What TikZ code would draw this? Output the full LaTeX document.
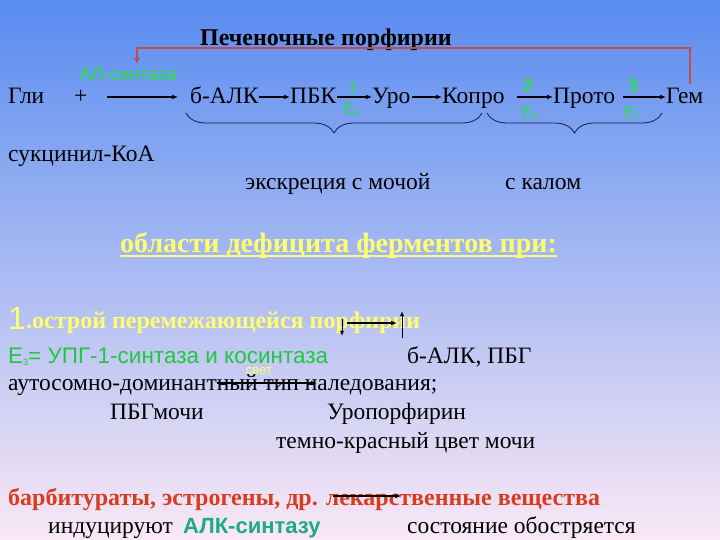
\documentclass[tikz,border=0pt]{standalone}
\usepackage{fontspec}
\setmainfont{Liberation Serif}
\newfontfamily\arialf{Liberation Sans}
\usetikzlibrary{arrows.meta,decorations.pathreplacing}
\definecolor{bgtop}{RGB}{88,140,240}
\definecolor{bgmid}{RGB}{172,192,248}
\definecolor{bgbot}{RGB}{250,232,245}
\definecolor{gtxt}{RGB}{40,225,70}
\definecolor{gtxtb}{RGB}{30,200,60}
\definecolor{ytxt}{RGB}{255,255,110}
\definecolor{rtxt}{RGB}{215,60,30}
\definecolor{alkc}{RGB}{30,170,130}
\definecolor{connc}{RGB}{195,75,75}
\definecolor{navyc}{RGB}{25,25,70}
\tikzset{
  txt/.style={inner sep=0pt,anchor=base west,font=\fontsize{23.5}{23.5}\selectfont,text=black},
  arr/.style={line width=1.5pt,-{Latex[length=6pt,width=5pt]},draw=black},
  glab/.style={inner sep=0pt,text=gtxt,font=\arialf\fontsize{16}{16}\selectfont},
  glabb/.style={inner sep=0pt,text=gtxt,font=\arialf\bfseries\fontsize{18}{18}\selectfont},
  brc/.style={draw=navyc,line width=0.8pt,decorate,decoration={brace,mirror,amplitude=20pt}},
}
\newcommand{\sub}[1]{\raisebox{-2pt}{\fontsize{9}{9}\selectfont #1}}
\begin{document}
\begin{tikzpicture}[x=1pt,y=-1pt]
\shade[top color=bgtop,middle color=bgmid,bottom color=bgbot] (0,0) rectangle (720,540);
\useasboundingbox (0,0) rectangle (720,540);

% title
\node[txt,font=\bfseries\fontsize{24}{24}\selectfont] (title) at (200,46) {Печеночные порфирии};
\node[inner sep=0pt,text=gtxt,font=\arialf\fontsize{18.5}{18.5}\selectfont] (als) at (128,74) {АЛ-синтаза};

% main row
\node[txt] (gli) at (8,104) {Гли};
\node[txt] (plus) at (74,104) {+};
\node[txt] (alk) at (190,104) {б-АЛК};
\node[txt] (pbk) at (290,104) {ПБК};
\node[txt] (uro) at (372,104) {Уро};
\node[txt] (kopro) at (442,104) {Копро};
\node[txt] (proto) at (553,104) {Прото};
\node[txt] (gem) at (666,104) {Гем};
\coordinate (s0) at (107,97);
\draw[arr,shorten >=12pt] (s0) -- ([yshift=7pt]alk.base west);
\draw[arr] ([yshift=7pt]alk.base east) -- ([yshift=7pt]pbk.base west);
\draw[arr] ([yshift=7pt]pbk.base east) -- ([yshift=7pt]uro.base west);
\draw[arr,shorten <=2pt] ([yshift=7pt]uro.base east) -- ([yshift=7pt]kopro.base west);
\draw[arr,shorten <=12pt] ([yshift=7pt]kopro.base east) -- ([yshift=7pt]proto.base west);
\draw[arr,shorten <=8pt] ([yshift=7pt]proto.base east) -- ([yshift=7pt]gem.base west);
\node[glab] (n1) at (353,87) {1};
\node[glab] (e3) at (351,109) {E\sub{3}};
\node[glabb] (n2) at (528,85) {2};
\node[glab] (e6) at (530,113) {E\sub{6}};
\node[glabb] (n3) at (633,85) {3};
\node[glab] (e7) at (632,113) {E\sub{7}};

% red feedback connector
\coordinate (rs) at (690,84);
\coordinate (re) at (137,64);
\draw[draw=connc,line width=2pt,-{Latex[length=6pt,width=6pt]}] (rs) -- (690,48) -| (re);

% braces
\coordinate (b1a) at (186,113);
\coordinate (b1b) at (482,113);
\coordinate (b2a) at (487,113);
\coordinate (b2b) at (662,113);
\draw[brc] (b1a) -- (b1b);
\draw[brc] (b2a) -- (b2b);

\node[txt] (suk) at (8,162) {сукцинил-КоА};
\node[txt] (exc) at (245,190) {экскреция с мочой};
\node[txt] (kal) at (505,190) {с калом};

\node[txt,text=ytxt,font=\bfseries\fontsize{28}{28}\selectfont] (obl) at (120,252) {области дефицита ферментов при:};
\draw[draw=ytxt,line width=1.5pt] ([yshift=-4pt]obl.base west) -- ([yshift=-4pt]obl.base east);

% section 1
\node[txt,text=ytxt,font=\arialf\fontsize{32}{32}\selectfont] (one) at (8,329) {1};
\node[txt,text=ytxt,font=\bfseries\fontsize{24}{24}\selectfont] (ostr) at (26,328) {.острой перемежающейся порфирии};
\node[txt,text=gtxtb,font=\arialf\fontsize{22.5}{22.5}\selectfont] (e3l) at (8,363) {E\sub{3}= УПГ-1-синтаза и косинтаза};
\node[txt] (alkpbg) at (407,363) {б-АЛК, ПБГ};
\node[txt] (auto) at (8,390) {аутосомно-доминантный тип наледования;};
\node[inner sep=0pt,text=ytxt,font=\arialf\fontsize{13}{13}\selectfont] (svet) at (259,371) {свет};
\node[txt] (pbgm) at (110,419) {ПБГмочи};
\node[txt] (uropor) at (327,419) {Уропорфирин};
\node[txt] (temno) at (276,448) {темно-красный цвет мочи};
\node[txt,text=rtxt,font=\bfseries\fontsize{24}{24}\selectfont] (barb) at (8,505) {барбитураты, эстрогены, др. лекарственные вещества};
\node[txt] (ind) at (48,533) {индуцируют};
\node[txt,text=alkc,font=\arialf\bfseries\fontsize{22}{22}\selectfont] (alks) at (183,533) {АЛК-синтазу};
\node[txt] (sost) at (407,533) {состояние обостряется};

% overlay arrows
\coordinate (d1) at (342,319);
\coordinate (d2) at (342,336);
\coordinate (h1) at (347,323);
\coordinate (h2) at (397,323);
\coordinate (u1) at (402,338);
\coordinate (u2) at (402,311);
\coordinate (l1) at (217,383);
\coordinate (l2) at (317,383);
\coordinate (m1) at (333,496);
\coordinate (m2) at (401,496);
\draw[line width=1pt,-{Latex[length=5pt,width=4pt]}] (d1) -- (d2);
\draw[arr] (h1) -- (h2);
\draw[line width=1pt,-{Latex[length=5pt,width=4pt]}] (u1) -- (u2);
\draw[arr] (l1) -- (l2);
\draw[arr] (m1) -- (m2);
\end{tikzpicture}
\end{document}
